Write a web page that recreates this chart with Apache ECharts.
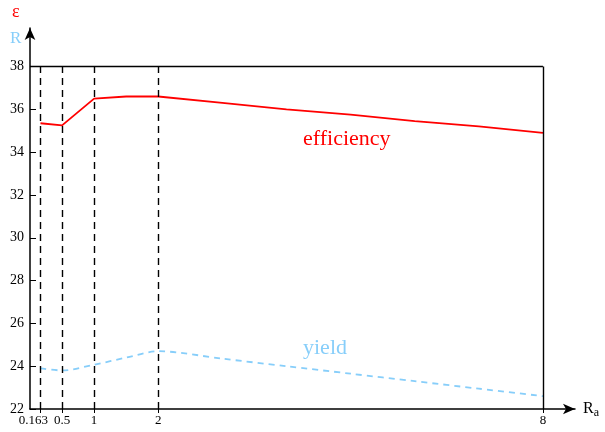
<!DOCTYPE html>
<html>
<head>
<meta charset="utf-8">
<script src="https://cdn.jsdelivr.net/npm/echarts@6/dist/echarts.min.js"></script>
<style>
  html, body { margin: 0; padding: 0; background: #fff; }
  #chart { width: 605px; height: 432px; }
</style>
</head>
<body>
<div id="chart"></div>
<script>
// datos
const raValues = [0.163, 0.5, 1, 1.5, 2, 3, 4, 5, 6, 7, 8];
const efficiency = [35.35, 35.25, 36.5, 36.6, 36.6, 36.3, 36.0, 35.75, 35.45, 35.2, 34.9];
const yieldValues = [23.9, 23.8, 24.07, 24.4, 24.7, 24.35, 24.0, 23.65, 23.3, 22.95, 22.6];

const xTicks = [0.163, 0.5, 1, 2, 8];
const yTicks = [22, 24, 26, 28, 30, 32, 34, 36, 38];
const dashedAt = [0.163, 0.5, 1, 2];

const serif = "'Liberation Serif', 'DejaVu Serif', serif";
const red = "#ff0000";
const blue = "#87cefa";

const chart = echarts.init(document.getElementById("chart"));

// lineas del marco y verticales discontinuas
const frameLines = [
  [{ coord: [0, 38] }, { coord: [8, 38] }],
  [{ coord: [8, 22] }, { coord: [8, 38] }],
];
const dashLines = dashedAt.map((x) => [
  { coord: [x, 22], lineStyle: { type: [7, 5] } },
  { coord: [x, 38], lineStyle: { type: [7, 5] } },
]);

const option = {
  backgroundColor: "#fff",
  animation: false,
  grid: { left: 30, right: 30, top: 28, bottom: 23, containLabel: false },
  xAxis: {
    type: "value",
    min: 0,
    max: 8.5,
    splitLine: { show: false },
    axisLine: {
      lineStyle: { color: "#000", width: 1.5 },
      symbol: ["none", "arrow"],
      symbolSize: [8, 12],
    },
    axisTick: { customValues: xTicks, length: 4, lineStyle: { color: "#000" } },
    axisLabel: {
      customValues: xTicks,
      color: "#000",
      fontFamily: serif,
      fontSize: 13,
      margin: 5,
      formatter: (v) => (v === 0.163 ? "{l|0.163}" : String(v)),
      rich: { l: { fontFamily: serif, fontSize: 13, color: "#000", padding: [0, 14, 0, 0] } },
    },
    name: "{r|R}{s|a}",
    nameLocation: "end",
    nameGap: 8,
    nameTextStyle: {
      rich: {
        r: { fontFamily: serif, fontSize: 16, color: "#000" },
        s: { fontFamily: serif, fontSize: 12, color: "#000", padding: [8, 0, 0, 0] },
      },
    },
  },
  yAxis: {
    type: "value",
    min: 22,
    max: 39.8,
    splitLine: { show: false },
    axisLine: {
      lineStyle: { color: "#000", width: 1.5 },
      symbol: ["none", "arrow"],
      symbolSize: [8, 12],
    },
    axisTick: { customValues: yTicks, inside: true, length: 6, lineStyle: { color: "#000" } },
    axisLabel: {
      customValues: yTicks,
      color: "#000",
      fontFamily: serif,
      fontSize: 14,
      margin: 6,
    },
  },
  graphic: [
    { type: "text", left: 12, top: 3, style: { text: "ε", fill: red, font: "18px " + serif } },
    { type: "text", left: 10, top: 30, style: { text: "R", fill: blue, font: "17px " + serif } },
    { type: "text", left: 303, top: 128, style: { text: "efficiency", fill: red, font: "22px " + serif } },
    { type: "text", left: 303, top: 337, style: { text: "yield", fill: blue, font: "22px " + serif } },
  ],
  series: [
    {
      name: "efficiency",
      type: "line",
      data: raValues.map((x, i) => [x, efficiency[i]]),
      showSymbol: false,
      lineStyle: { color: red, width: 1.8 },
      markLine: {
        silent: true,
        symbol: ["none", "none"],
        label: { show: false },
        lineStyle: { color: "#000", width: 1.4, type: "solid" },
        data: frameLines.concat(dashLines),
      },
    },
    {
      name: "yield",
      type: "line",
      data: raValues.map((x, i) => [x, yieldValues[i]]),
      showSymbol: false,
      smooth: 0.3,
      lineStyle: { color: blue, width: 1.8, type: [6, 5] },
    },
  ],
};

chart.setOption(option);
</script>
</body>
</html>
